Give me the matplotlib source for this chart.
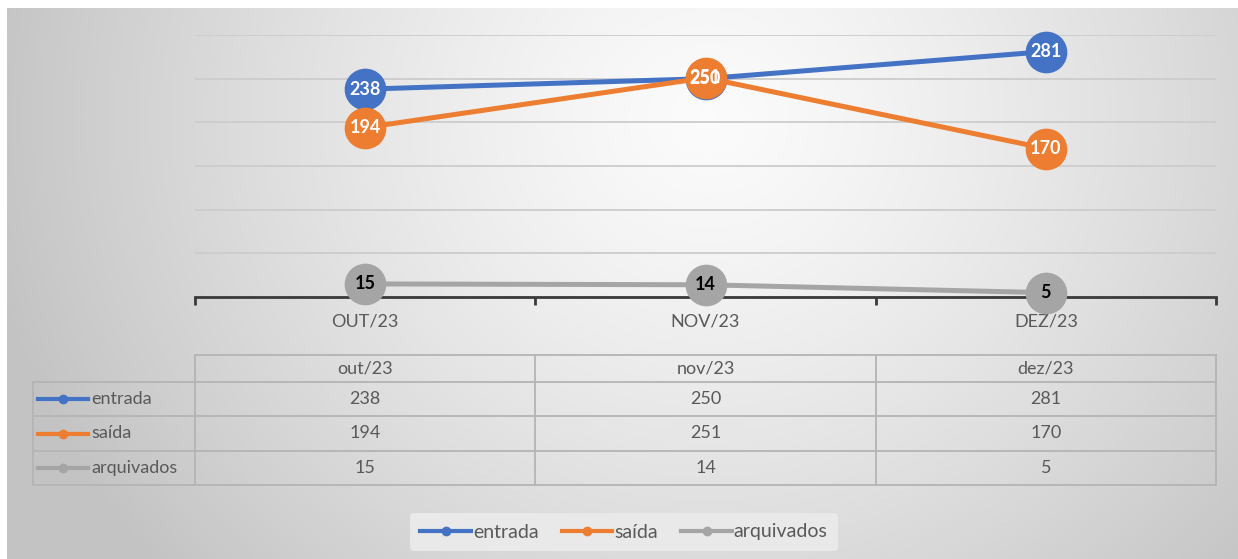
import numpy as np
import matplotlib
matplotlib.use("Agg")
import matplotlib.pyplot as plt
from matplotlib.lines import Line2D

plt.rcParams["font.family"] = ["Lato", "DejaVu Sans"]

months       = ["OUT/23", "NOV/23", "DEZ/23"]
table_months = ["out/23", "nov/23", "dez/23"]
series_names = ["entrada", "saída", "arquivados"]
entrada      = [238, 250, 281]
saida        = [194, 251, 170]
arquivados   = [15, 14, 5]
yticks       = [0, 50, 100, 150, 200, 250, 300]

colors      = ["#4472C4", "#ED7D31", "#A5A5A5"]
label_color = ["white", "white", "black"]
text_grey   = "#595959"
W, H = 1238, 559

fig = plt.figure(figsize=(W / 100, H / 100), dpi=100)
fig.patch.set_facecolor("white")

# background gradient (light centre, grey edges)
bg = fig.add_axes([7 / W, 0, 1 - 7 / W, 1 - 8 / H])
gx, gy = np.meshgrid(np.linspace(0, 1, 400), np.linspace(0, 1, 200))
r = np.sqrt(((gx - 0.57) / 0.6) ** 2 + ((gy - 0.2) / 1.25) ** 2)
shade = 0.985 - 0.22 * np.clip(r, 0, 1) ** 1.3
bg.imshow(np.dstack([shade] * 3), aspect="auto", extent=[0, 1, 1, 0])
bg.set_xlim(0, 1)
bg.set_ylim(1, 0)
bg.axis("off")

# main line chart
ax = fig.add_axes([195 / W, 1 - 297 / H, (1216 - 195) / W, (297 - 35) / H])
ax.patch.set_alpha(0)
x = np.arange(len(months))
all_series = [entrada, saida, arquivados]
for vals, c in zip(all_series, colors):
    ax.plot(x, vals, color=c, lw=3.6, marker="o", ms=29, mec=c, mfc=c,
            solid_capstyle="round", zorder=3, clip_on=False)
for vals, c, lc in zip(all_series, colors, label_color):
    for xi, v in zip(x, vals):
        ax.text(xi, v, str(v), ha="center", va="center", color=lc,
                fontsize=13, fontweight="bold", zorder=5)

ax.set_xlim(-0.5, len(months) - 0.5)
ax.set_ylim(0, 300)
ax.set_yticks(yticks)
ax.yaxis.grid(True, color="#cccccc", lw=1.3)
ax.set_axisbelow(True)
ax.tick_params(axis="y", left=False, labelleft=False)
for s in ["top", "right", "left"]:
    ax.spines[s].set_visible(False)
ax.spines["bottom"].set_color("#3a3a3a")
ax.spines["bottom"].set_linewidth(2)
ax.spines["bottom"].set_zorder(2)
ax.set_xticks(x)
ax.set_xticklabels(months, fontsize=13, color=text_grey)
ax.tick_params(axis="x", length=0, pad=12)
ax.set_xticks(np.arange(-0.5, len(months)), minor=True)
ax.tick_params(axis="x", which="minor", length=6, width=2, color="#3a3a3a",
               direction="out")

# data table under the chart
tb = fig.add_axes([0, 0, 1, 1])
tb.set_xlim(0, W)
tb.set_ylim(H, 0)
tb.axis("off")
tb.patch.set_alpha(0)
left, col0, right = 33, 195, 1216
rows = [355, 382, 416, 451, 485]
colw = (right - col0) / len(months)
lc = "#b4b4b4"
tb.plot([col0, right], [rows[0], rows[0]], color=lc, lw=1.3)
for yr in rows[1:]:
    tb.plot([left, right], [yr, yr], color=lc, lw=1.3)
tb.plot([left, left], [rows[1], rows[-1]], color=lc, lw=1.3)
for i in range(len(months) + 1):
    xc = col0 + i * colw
    tb.plot([xc, xc], [rows[0], rows[-1]], color=lc, lw=1.3)
for i, m in enumerate(table_months):
    tb.text(col0 + (i + 0.5) * colw, (rows[0] + rows[1]) / 2, m,
            ha="center", va="center", fontsize=13, color=text_grey)
for r_i, (name, vals, c) in enumerate(zip(series_names, all_series, colors)):
    yc = (rows[r_i + 1] + rows[r_i + 2]) / 2
    tb.plot([38, 88], [yc, yc], color=c, lw=3)
    tb.plot([63], [yc], marker="o", ms=6, color=c)
    tb.text(91, yc, name, ha="left", va="center", fontsize=13,
            color=text_grey)
    for i, v in enumerate(vals):
        tb.text(col0 + (i + 0.5) * colw, yc, str(v), ha="center",
                va="center", fontsize=13, color=text_grey)

# legend at the bottom
handles = [Line2D([], [], color=c, lw=3, marker="o", ms=6) for c in colors]
leg = fig.legend(handles, series_names, loc="center",
                 bbox_to_anchor=(624 / W, 1 - 532 / H), ncol=3,
                 fontsize=14, frameon=True, handlelength=2.6,
                 handletextpad=0.1, columnspacing=1.2, borderpad=0.55)
leg.get_frame().set_facecolor("#e9e9e9")
leg.get_frame().set_edgecolor("none")
leg.get_frame().set_alpha(1)
for t in leg.get_texts():
    t.set_color(text_grey)

fig.savefig("out.png", dpi=100)
